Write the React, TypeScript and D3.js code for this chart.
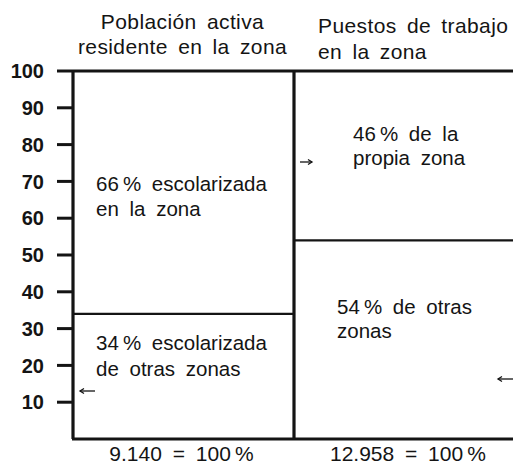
import React from 'react';
import * as d3 from 'd3';

// two columns, each split into a lower and an upper share (percent, bottom first)
const columns = ['Población activa residente en la zona', 'Puestos de trabajo en la zona'];
const lowerShare = [34, 54];
const upperShare = [66, 46];
const totals = ['9.140 = 100\u2009%', '12.958 = 100\u2009%'];
const yTicks = [10, 20, 30, 40, 50, 60, 70, 80, 90, 100];

const headerLines = [
  ['Población activa', 'residente en la zona'],
  ['Puestos de trabajo', 'en la zona'],
];
const lowerLabels = [
  [`${lowerShare[0]}\u2009% escolarizada`, 'de otras zonas'],
  [`${lowerShare[1]}\u2009% de otras`, 'zonas'],
];
const upperLabels = [
  [`${upperShare[0]}\u2009% escolarizada`, 'en la zona'],
  [`${upperShare[1]}\u2009% de la`, 'propia zona'],
];

const W = 513;
const H = 466;
const ink = '#141414';

function Arrow({ x1, x2, yy }: { x1: number; x2: number; yy: number }) {
  const dir = x2 > x1 ? 1 : -1;
  return (
    <g stroke={ink} strokeWidth={1.3} fill="none">
      <line x1={x1} x2={x2} y1={yy} y2={yy} />
      <path d={`M${x2 - dir * 4},${yy - 2.5} L${x2},${yy} L${x2 - dir * 4},${yy + 2.5}`} />
    </g>
  );
}

export default function App() {
  const y = d3.scaleLinear().domain([0, 100]).range([439, 71]);
  const x = d3.scaleLinear().domain([0, columns.length]).range([73, 515]);
  const font = '"Liberation Sans", Arial, Helvetica, sans-serif';
  const leftMid = (x(0) + x(1)) / 2;

  return (
    <svg width={W} height={H} style={{ position: 'absolute', left: 0, top: 0, background: '#fff' }}
      fontFamily={font}>
      {/* headers */}
      <g fontSize={21} fill={ink} wordSpacing={4} letterSpacing={0.4}>
        {headerLines[0].map((t, i) => (
          <text key={t} x={leftMid - 1} y={29 + i * 25} textAnchor="middle">{t}</text>
        ))}
        {headerLines[1].map((t, i) => (
          <text key={t} x={x(1) + 24} y={33 + i * 26}>{t}</text>
        ))}
      </g>

      {/* y ticks */}
      <g>
        {yTicks.map(v => (
          <g key={v}>
            <line x1={x(0) - 16} x2={x(0)} y1={y(v)} y2={y(v)} stroke={ink} strokeWidth={3} />
            <text x={x(0) - 29} y={y(v)} dy="0.36em" textAnchor="end" fontSize={20} fontWeight="bold" fill={ink}>{v}</text>
          </g>
        ))}
      </g>

      {/* split lines */}
      {lowerShare.map((v, i) => (
        <line key={i} x1={x(i)} x2={x(i + 1)} y1={y(v)} y2={y(v)} stroke={ink} strokeWidth={2.2} />
      ))}

      {/* frame */}
      <line x1={x(0)} x2={x(2)} y1={y(100)} y2={y(100)} stroke={ink} strokeWidth={3} />
      <line x1={x(0) - 1} x2={x(2)} y1={y(0)} y2={y(0)} stroke={ink} strokeWidth={3} />
      <line x1={x(0)} x2={x(0)} y1={y(100)} y2={y(0)} stroke={ink} strokeWidth={3.2} />
      <line x1={x(1)} x2={x(1)} y1={y(100)} y2={y(0)} stroke={ink} strokeWidth={3.2} />

      {/* labels inside boxes */}
      <g fontSize={20.5} fill={ink} wordSpacing={5}>
        {upperLabels[0].map((t, i) => (
          <text key={t} x={x(0) + 23} y={191 + i * 25}>{t}</text>
        ))}
        {lowerLabels[0].map((t, i) => (
          <text key={t} x={x(0) + 23} y={350 + i * 26}>{t}</text>
        ))}
        {upperLabels[1].map((t, i) => (
          <text key={t} x={x(1) + 59} y={141 + i * 24}>{t}</text>
        ))}
        {lowerLabels[1].map((t, i) => (
          <text key={t} x={x(1) + 43} y={314 + i * 24}>{t}</text>
        ))}
      </g>

      {/* small arrows */}
      <Arrow x1={x(1) + 6} x2={x(1) + 18} yy={162} />
      <Arrow x1={x(0) + 22} x2={x(0) + 7} yy={391} />
      <Arrow x1={W} x2={W - 15} yy={379} />

      {/* totals */}
      <g fontSize={21} fill={ink} wordSpacing={5}>
        <text x={leftMid - 2} y={461} textAnchor="middle">{totals[0]}</text>
        <text x={x(1) + 114} y={461} textAnchor="middle">{totals[1]}</text>
      </g>
    </svg>
  );
}
